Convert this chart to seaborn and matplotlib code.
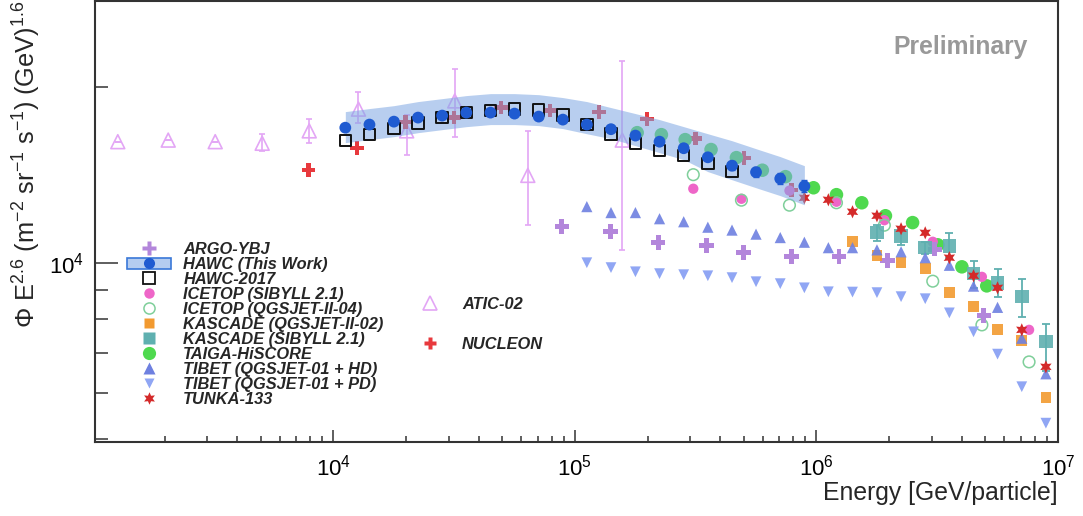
import matplotlib
matplotlib.use("Agg")
import matplotlib.pyplot as plt
import seaborn as sns
import numpy as np
from matplotlib.lines import Line2D
from matplotlib.patches import Patch
from matplotlib.ticker import LogLocator, NullFormatter

# ---------------- data (Energy [GeV], Phi*E^2.6) ----------------
atic_E = [1.28e3, 2.07e3, 3.24e3, 5.07e3, 7.94e3, 1.27e4, 2.01e4, 3.18e4, 6.38e4, 1.57e5]
atic_F = [1.61e4, 1.62e4, 1.61e4, 1.60e4, 1.68e4, 1.83e4, 1.68e4, 1.89e4, 1.41e4, 1.62e4]
atic_lo = [1.61e4, 1.62e4, 1.61e4, 1.55e4, 1.60e4, 1.73e4, 1.53e4, 1.64e4, 1.16e4, 1.05e4]
atic_hi = [1.61e4, 1.62e4, 1.61e4, 1.66e4, 1.76e4, 1.96e4, 1.79e4, 2.14e4, 1.68e4, 2.21e4]

nucleon_E = [7.87e3, 1.25e4, 1.99e4, 3.15e4, 4.93e4, 7.87e4, 1.26e5, 1.99e5, 3.15e5, 5.02e5, 7.87e5]
nucleon_F = [1.44e4, 1.57e4, 1.74e4, 1.77e4, 1.84e4, 1.82e4, 1.81e4, 1.76e4, 1.63e4, 1.51e4, 1.33e4]

hawc_E = [1.12e4, 1.41e4, 1.78e4, 2.24e4, 2.82e4, 3.55e4, 4.47e4, 5.62e4, 7.08e4, 8.91e4,
          1.12e5, 1.41e5, 1.78e5, 2.24e5, 2.82e5, 3.55e5, 4.47e5, 5.62e5, 7.08e5, 8.91e5]
hawc_F = [1.701e4, 1.722e4, 1.742e4, 1.770e4, 1.784e4, 1.805e4, 1.805e4, 1.798e4, 1.777e4, 1.756e4,
          1.722e4, 1.691e4, 1.649e4, 1.610e4, 1.569e4, 1.514e4, 1.465e4, 1.428e4, 1.392e4, 1.351e4]
hawc_err = [0, 0, 0, 0, 0, 0, 0, 0, 0, 0, 0, 0, 0, 0, 0, 0, 250, 280, 300, 320]
hawc_band_hi = [1.812e4, 1.834e4, 1.855e4, 1.885e4, 1.907e4, 1.930e4, 1.945e4, 1.945e4, 1.937e4, 1.915e4,
                1.885e4, 1.841e4, 1.798e4, 1.756e4, 1.708e4, 1.661e4, 1.616e4, 1.566e4, 1.518e4, 1.465e4]
hawc_band_lo = [1.604e4, 1.623e4, 1.642e4, 1.668e4, 1.688e4, 1.708e4, 1.722e4, 1.722e4, 1.715e4, 1.695e4,
                1.661e4, 1.629e4, 1.585e4, 1.542e4, 1.500e4, 1.431e4, 1.386e4, 1.343e4, 1.302e4, 1.256e4]

hawc17_E = [1.12e4, 1.41e4, 1.78e4, 2.24e4, 2.82e4, 3.55e4, 4.47e4, 5.62e4, 7.08e4, 8.91e4,
            1.12e5, 1.41e5, 1.78e5, 2.24e5, 2.82e5, 3.55e5, 4.47e5]
hawc17_F = [1.616e4, 1.655e4, 1.695e4, 1.732e4, 1.770e4, 1.805e4, 1.819e4, 1.830e4, 1.823e4, 1.787e4,
            1.722e4, 1.658e4, 1.597e4, 1.554e4, 1.524e4, 1.476e4, 1.431e4]

icetop_E = [3.09e5, 4.89e5, 7.73e5, 1.21e6, 1.91e6, 3.03e6, 4.84e6, 7.59e6]
icetop_sib_F = [1.338e4, 1.286e4, 1.328e4, 1.271e4, 1.182e4, 1.086e4, 0.946e4, 0.768e4]
icetop_qgs_F = [1.414e4, 1.279e4, 1.254e4, 1.266e4, 1.159e4, 0.930e4, 0.783e4, 0.677e4]

kascade_qgs_E = [1.41e6, 1.78e6, 2.24e6, 2.82e6, 3.55e6, 4.47e6, 5.62e6, 7.08e6, 8.91e6]
kascade_qgs_F = [1.086e4, 1.030e4, 1.002e4, 0.977e4, 0.889e4, 0.841e4, 0.768e4, 0.736e4, 0.588e4]

kascade_sib_E = [1.78e6, 2.24e6, 2.82e6, 3.55e6, 4.47e6, 5.62e6, 7.08e6, 8.91e6]
kascade_sib_F = [1.127e4, 1.112e4, 1.061e4, 1.069e4, 0.958e4, 0.924e4, 0.875e4, 0.733e4]
kascade_sib_lo = [1.090e4, 1.073e4, 1.036e4, 1.020e4, 0.906e4, 0.875e4, 0.809e4, 0.654e4]
kascade_sib_hi = [1.161e4, 1.148e4, 1.086e4, 1.125e4, 1.008e4, 0.977e4, 0.939e4, 0.787e4]

taiga_E = [1.81e5, 2.28e5, 2.86e5, 3.66e5, 4.66e5, 5.97e5, 7.44e5, 9.72e5, 1.21e6, 1.54e6,
           1.93e6, 2.50e6, 3.18e6, 4.00e6, 5.07e6]
taiga_F = [1.668e4, 1.655e4, 1.623e4, 1.561e4, 1.512e4, 1.439e4, 1.403e4, 1.343e4, 1.307e4, 1.266e4,
           1.203e4, 1.171e4, 1.073e4, 0.984e4, 0.913e4]

tibet_E = [1.12e5, 1.41e5, 1.78e5, 2.24e5, 2.82e5, 3.55e5, 4.47e5, 5.62e5, 7.08e5, 8.91e5,
           1.12e6, 1.41e6, 1.78e6, 2.24e6, 2.82e6, 3.55e6, 4.47e6, 5.62e6, 7.08e6, 8.91e6]
tibet_hd_F = [1.247e4, 1.218e4, 1.218e4, 1.189e4, 1.175e4, 1.150e4, 1.137e4, 1.119e4, 1.104e4, 1.084e4,
              1.061e4, 1.061e4, 1.052e4, 1.044e4, 1.020e4, 0.990e4, 0.912e4, 0.839e4, 0.743e4, 0.646e4]
tibet_pd_F = [1.000e4, 0.981e4, 0.965e4, 0.958e4, 0.954e4, 0.950e4, 0.943e4, 0.928e4, 0.921e4, 0.906e4,
              0.892e4, 0.891e4, 0.889e4, 0.875e4, 0.868e4, 0.821e4, 0.762e4, 0.698e4, 0.614e4, 0.532e4]

tunka_E = [8.91e5, 1.12e6, 1.41e6, 1.78e6, 2.24e6, 2.82e6, 3.55e6, 4.47e6, 5.62e6, 7.08e6, 8.91e6]
tunka_F = [1.291e4, 1.281e4, 1.222e4, 1.203e4, 1.143e4, 1.125e4, 1.020e4, 0.950e4, 0.906e4, 0.768e4, 0.664e4]

argo_E = [8.83e4, 1.40e5, 2.21e5, 3.50e5, 4.98e5, 7.87e5, 1.24e6, 1.97e6, 3.09e6, 4.93e6]
argo_F = [1.152e4, 1.130e4, 1.082e4, 1.069e4, 1.040e4, 1.024e4, 1.024e4, 1.008e4, 1.055e4, 0.813e4]

# ---------------- colours ----------------
c_atic = "#e3a6f5"
c_nucleon = "#e8393d"
c_hawc = "#1f5bd1"
c_band = "#7ea7e3"
c_icetop_sib = "#ee66c8"
c_icetop_qgs = "#7fcf9a"
c_kas_qgs = "#f29a30"
c_kas_sib = "#5fb0b0"
c_taiga = "#4fd94f"
c_tibet_hd = "#6e80e0"
c_tibet_pd = "#90a6f4"
c_tunka = "#d42a2a"
c_argo = "#b386db"

sns.set_theme(style="white")
plt.rcParams["font.family"] = ["Liberation Sans", "DejaVu Sans"]
plt.rcParams["mathtext.fontset"] = "custom"
plt.rcParams["mathtext.rm"] = "Liberation Sans"
plt.rcParams["mathtext.it"] = "Liberation Sans:italic"
plt.rcParams["mathtext.bf"] = "Liberation Sans:bold"

fig = plt.figure(figsize=(10.83, 5.16), dpi=100)
ax = fig.add_axes([95 / 1083, 1 - 442 / 516, 963 / 1083, 441 / 516])
ax.set_xscale("log")
ax.set_yscale("log")

star6 = (6, 1, 0)

# ATIC with error bars
ax.errorbar(atic_E, atic_F,
            yerr=[np.array(atic_F) - np.array(atic_lo), np.array(atic_hi) - np.array(atic_F)],
            fmt="none", ecolor=c_atic, elinewidth=1.2, capsize=2.5, capthick=1.2, zorder=1)
sns.scatterplot(x=atic_E, y=atic_F, ax=ax, marker="^", s=100, facecolors="none",
                edgecolor=c_atic, linewidth=1.2, zorder=1.5)

sns.scatterplot(x=nucleon_E, y=nucleon_F, ax=ax, marker="P", s=95, color=c_nucleon,
                edgecolor="none", zorder=2)
sns.scatterplot(x=taiga_E, y=taiga_F, ax=ax, marker="o", s=95, color=c_taiga,
                edgecolor="none", zorder=2)
sns.scatterplot(x=icetop_E, y=icetop_sib_F, ax=ax, marker="o", s=55, color=c_icetop_sib,
                edgecolor="none", zorder=2.2)
sns.scatterplot(x=icetop_E, y=icetop_qgs_F, ax=ax, marker="o", s=70, facecolors="none",
                edgecolor=c_icetop_qgs, linewidth=1.1, zorder=2.3)
sns.scatterplot(x=argo_E, y=argo_F, ax=ax, marker="P", s=110, color=c_argo,
                edgecolor="none", zorder=2.4)
sns.scatterplot(x=tibet_E, y=tibet_pd_F, ax=ax, marker="v", s=60, color=c_tibet_pd,
                edgecolor="none", zorder=2.4)
sns.scatterplot(x=kascade_qgs_E, y=kascade_qgs_F, ax=ax, marker="s", s=60, color=c_kas_qgs,
                edgecolor="none", alpha=0.9, zorder=2.5)
ax.errorbar(kascade_sib_E, kascade_sib_F,
            yerr=[np.array(kascade_sib_F) - np.array(kascade_sib_lo),
                  np.array(kascade_sib_hi) - np.array(kascade_sib_F)],
            fmt="none", ecolor=c_kas_sib, elinewidth=1.3, capsize=3, capthick=1.3, zorder=2.6)
sns.scatterplot(x=kascade_sib_E, y=kascade_sib_F, ax=ax, marker="s", s=95, color=c_kas_sib,
                edgecolor="none", alpha=0.9, zorder=2.6)
sns.scatterplot(x=tibet_E, y=tibet_hd_F, ax=ax, marker="^", s=65, color=c_tibet_hd,
                edgecolor="none", alpha=0.9, zorder=2.7)
sns.scatterplot(x=tunka_E, y=tunka_F, ax=ax, marker=star6, s=90, color=c_tunka,
                edgecolor="none", zorder=2.8)

# HAWC band
ax.fill_between(hawc_E, hawc_band_lo, hawc_band_hi, color=c_band, alpha=0.55, linewidth=0, zorder=3)
sns.scatterplot(x=hawc17_E, y=hawc17_F, ax=ax, marker="s", s=68, facecolors="none",
                edgecolor="#111111", linewidth=1.4, zorder=4)
ax.errorbar(hawc_E, hawc_F, yerr=hawc_err, fmt="none", ecolor=c_hawc, elinewidth=1.0,
            capsize=2, capthick=1.0, zorder=5)
sns.scatterplot(x=hawc_E, y=hawc_F, ax=ax, marker="o", s=72, color=c_hawc,
                edgecolor="none", zorder=5)

# ---------------- axes ----------------
ax.set_xlim(1.03e3, 1e7)
ax.set_ylim(4.94e3, 2.8e4)
ax.xaxis.set_major_locator(LogLocator(base=10, numticks=10))
ax.xaxis.set_minor_locator(LogLocator(base=10, subs=np.arange(2, 10), numticks=20))
ax.yaxis.set_major_locator(LogLocator(base=10, numticks=10))
ax.yaxis.set_minor_locator(LogLocator(base=10, subs=np.arange(2, 10), numticks=20))
ax.xaxis.set_minor_formatter(NullFormatter())
ax.yaxis.set_minor_formatter(NullFormatter())

ax.tick_params(axis="both", which="both", direction="in", top=False, right=False,
               bottom=True, left=True,
               colors="#333333", labelcolor="black", labelsize=16, width=1.1)
ax.tick_params(axis="x", which="major", length=8.5, pad=9)
ax.tick_params(axis="x", which="minor", length=4.2)
ax.tick_params(axis="y", which="major", length=16.5, pad=8)
ax.tick_params(axis="y", which="minor", length=9.4)
for sp in ax.spines.values():
    sp.set_color("#333333")
    sp.set_linewidth(1.5)

ax.set_xlabel("Energy [GeV/particle]", fontsize=17.8, loc="right")
ax.xaxis.set_label_coords(1.0, -0.088)
ax.set_ylabel("Φ E$^{2.6}$ (m$^{-2}$ sr$^{-1}$ s$^{-1}$) (GeV)$^{1.6}$", fontsize=18.3, loc="top")
ax.yaxis.set_label_coords(-0.054, 1.0)

ax.text(0.969, 0.896, "Preliminary", transform=ax.transAxes, ha="right", va="center",
        fontsize=17.8, fontweight="bold", color="#999999")

# ---------------- legends ----------------
lprop = {"weight": "bold", "style": "italic", "size": 11.8}
handles1 = [
    Line2D([], [], ls="none", marker="P", ms=10, color=c_argo, mec="none"),
    (Patch(facecolor="#b5cdf0", edgecolor="#3a78d8", linewidth=1.2),
     Line2D([], [], ls="none", marker="o", ms=8, color=c_hawc, mec="none")),
    Line2D([], [], ls="none", marker="s", ms=8, mfc="none", mec="#111111", mew=1.3),
    Line2D([], [], ls="none", marker="o", ms=7.5, color=c_icetop_sib, mec="none"),
    Line2D([], [], ls="none", marker="o", ms=8, mfc="none", mec=c_icetop_qgs, mew=1.1),
    Line2D([], [], ls="none", marker="s", ms=7.5, color=c_kas_qgs, mec="none"),
    Line2D([], [], ls="none", marker="s", ms=9, color=c_kas_sib, mec="none"),
    Line2D([], [], ls="none", marker="o", ms=9.5, color=c_taiga, mec="none"),
    Line2D([], [], ls="none", marker="^", ms=8, color=c_tibet_hd, mec="none"),
    Line2D([], [], ls="none", marker="v", ms=7.5, color=c_tibet_pd, mec="none"),
    Line2D([], [], ls="none", marker=star6, ms=9, color=c_tunka, mec="none"),
]
labels1 = ["ARGO-YBJ", "HAWC (This Work)", "HAWC-2017", "ICETOP (SIBYLL 2.1)",
           "ICETOP (QGSJET-II-04)", "KASCADE (QGSJET-II-02)", "KASCADE (SIBYLL 2.1)",
           "TAIGA-HiSCORE", "TIBET (QGSJET-01 + HD)", "TIBET (QGSJET-01 + PD)", "TUNKA-133"]
leg1 = ax.legend(handles1, labels1, loc="upper left", bbox_to_anchor=(0.033, 0.453),
                 frameon=False, prop=lprop, handlelength=2.7, handletextpad=0.75,
                 labelspacing=0.0, borderpad=0, borderaxespad=0)
ax.add_artist(leg1)

handles2 = [
    Line2D([], [], ls="none", marker="^", ms=10, mfc="none", mec=c_atic, mew=1.2),
    Line2D([], [], ls="none", marker="P", ms=9, color=c_nucleon, mec="none"),
]
leg2 = ax.legend(handles2, ["ATIC-02", "NUCLEON"], loc="upper left", bbox_to_anchor=(0.325, 0.329),
                 frameon=False, prop=lprop, handlelength=2.7, handletextpad=0.6,
                 labelspacing=1.54, borderpad=0, borderaxespad=0)

fig.savefig("out.png", dpi=100)
